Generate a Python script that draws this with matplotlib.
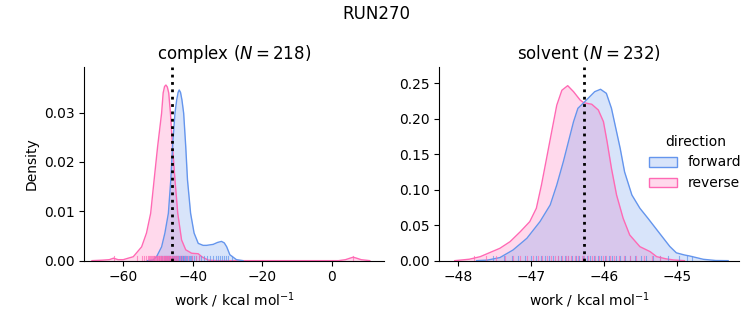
import matplotlib
matplotlib.use("Agg")
import matplotlib.pyplot as plt
from matplotlib.patches import Patch

# ---------------- data ----------------
title = "RUN270"
panels = ["complex", "solvent"]
n_samples = [218, 232]
directions = ["forward", "reverse"]
colors = {"forward": "cornflowerblue", "reverse": "hotpink"}
estimates = [-46.05, -46.28]          # dotted vertical lines

# density curves (work, density)
complex_fwd_x = [-53.0, -51.4, -50.4, -48.95, -48.0, -47.0, -46.3, -45.8, -45.1, -44.6, -44.2, -43.88,
                 -43.5, -43.1, -42.6, -42.0, -41.5, -40.6, -39.6, -38.4, -37.0, -36.0, -34.1, -32.8,
                 -31.7, -30.9, -30.2, -29.3, -27.4, -25.5]
complex_fwd_y = [0.0, 0.00014, 0.0008, 0.0028, 0.0056, 0.0096, 0.0164, 0.0231, 0.0299, 0.0326, 0.0341, 0.0346,
                 0.0341, 0.0326, 0.0299, 0.0231, 0.0164, 0.0096, 0.0056, 0.0035, 0.0031, 0.0031, 0.0033, 0.0037,
                 0.0039, 0.0036, 0.0028, 0.0012, 0.0002, 0.0]
complex_rev_x = [-69.0, -66.0, -64.0, -62.8, -61.5, -60.0, -57.1, -54.7, -53.3, -52.1, -51.1, -50.1, -48.95,
                 -48.5, -48.1, -47.71, -47.3, -46.9, -46.4, -45.8, -45.1, -44.3, -43.2, -42.0, -40.3, -38.4,
                 -37.4, -35.5, -33.0, 2.0, 4.0, 5.3, 6.2, 7.2, 8.5, 11.0]
complex_rev_y = [0.0, 0.0001, 0.0002, 0.0005, 0.0002, 0.0002, 0.0008, 0.0028, 0.0056, 0.0096, 0.0164, 0.0231, 0.0299,
                 0.0340, 0.0353, 0.0356, 0.0352, 0.0340, 0.0299, 0.0231, 0.0164, 0.0096, 0.0042, 0.0022, 0.0015, 0.0014,
                 0.0008, 0.0001, 0.0, 0.0, 0.0002, 0.0005, 0.0007, 0.0005, 0.0002, 0.0]

solvent_fwd_x = [-47.75, -47.6, -47.43, -47.25, -47.06, -46.88, -46.74, -46.65, -46.56, -46.49, -46.42, -46.36,
                 -46.28, -46.22, -46.13, -46.05, -45.97, -45.90, -45.85, -45.78, -45.72, -45.62, -45.51, -45.40,
                 -45.24, -45.10, -45.01, -44.90, -44.83, -44.64, -44.47, -44.30]
solvent_fwd_y = [0.0, 0.0008, 0.0043, 0.015, 0.0315, 0.055, 0.0785, 0.1066, 0.1394, 0.1676, 0.1958, 0.2146,
                 0.2225, 0.2287, 0.238, 0.2414, 0.2357, 0.2146, 0.191, 0.158, 0.125, 0.0925, 0.0738, 0.0597,
                 0.0385, 0.020, 0.0110, 0.0080, 0.0066, 0.0019, 0.0002, 0.0]
solvent_rev_x = [-48.05, -47.85, -47.70, -47.43, -47.29, -47.15, -47.02, -46.93, -46.86, -46.79, -46.72, -46.65,
                 -46.58, -46.50, -46.42, -46.33, -46.28, -46.17, -46.08, -46.01, -45.96, -45.90, -45.83, -45.74,
                 -45.65, -45.51, -45.37, -45.28, -45.15, -45.05, -44.90]
solvent_rev_y = [0.0, 0.002, 0.0056, 0.0174, 0.0268, 0.0408, 0.055, 0.0738, 0.1066, 0.144, 0.1817, 0.219,
                 0.240, 0.2465, 0.238, 0.2263, 0.2225, 0.2203, 0.2122, 0.1958, 0.1676, 0.130, 0.0925, 0.0597,
                 0.0362, 0.0197, 0.0127, 0.0056, 0.0025, 0.001, 0.0]

# individual work values (rug)
complex_fwd_rug = [-50.3, -49.6, -49.1, -48.8, -48.4, -48.0, -47.7, -47.4, -47.1, -46.9, -46.6, -46.4, -46.1,
                   -45.9, -45.7, -45.5, -45.3, -45.1, -44.9, -44.7, -44.5, -44.3, -44.1, -43.9, -43.7, -43.5,
                   -43.3, -43.1, -42.9, -42.7, -42.5, -42.3, -42.1, -41.8, -41.5, -41.2, -40.9, -40.5, -40.1,
                   -39.6, -39.0, -38.3, -37.5, -36.8, -36.0, -35.1, -34.2, -33.4, -32.6, -32.0, -31.5, -31.0,
                   -30.4, -29.7, -28.6]
complex_rev_rug = [-62.7, -56.0, -54.6, -54.0, -53.4, -53.0, -52.6, -52.3, -52.0, -51.7, -51.4, -51.2, -51.0,
                   -50.8, -50.6, -50.4, -50.2, -50.0, -49.8, -49.6, -49.4, -49.2, -49.0, -48.8, -48.6, -48.4,
                   -48.2, -48.0, -47.8, -47.6, -47.4, -47.2, -47.0, -46.8, -46.6, -46.4, -46.2, -46.0, -45.7,
                   -45.4, -45.1, -44.8, -44.5, -44.1, -43.6, -43.0, -42.2, -41.3, -40.2, -39.0, -38.1, 6.3]
solvent_fwd_rug = [-47.52, -47.38, -47.27, -47.18, -47.09, -47.01, -46.94, -46.87, -46.81, -46.75, -46.70, -46.64,
                   -46.59, -46.54, -46.49, -46.44, -46.39, -46.34, -46.29, -46.24, -46.19, -46.14, -46.09, -46.04,
                   -45.99, -45.94, -45.89, -45.84, -45.78, -45.72, -45.65, -45.58, -45.50, -45.42, -45.33, -45.23,
                   -45.12, -44.98, -44.86, -44.79]
solvent_rev_rug = [-47.78, -47.62, -47.48, -47.36, -47.25, -47.15, -47.06, -46.98, -46.91, -46.85, -46.79, -46.73,
                   -46.68, -46.63, -46.58, -46.53, -46.49, -46.45, -46.40, -46.36, -46.31, -46.27, -46.22, -46.17,
                   -46.12, -46.07, -46.02, -45.97, -45.92, -45.86, -45.80, -45.73, -45.65, -45.56, -45.46, -45.35,
                   -45.24]

curves = [
    {"forward": (complex_fwd_x, complex_fwd_y), "reverse": (complex_rev_x, complex_rev_y)},
    {"forward": (solvent_fwd_x, solvent_fwd_y), "reverse": (solvent_rev_x, solvent_rev_y)},
]
rugs = [
    {"forward": complex_fwd_rug, "reverse": complex_rev_rug},
    {"forward": solvent_fwd_rug, "reverse": solvent_rev_rug},
]
xlims = [(-71.2, 15.1), (-48.26, -44.15)]
ylims = [(0, 0.0392), (0, 0.2724)]
yticks = [[0.0, 0.01, 0.02, 0.03], [0.0, 0.05, 0.10, 0.15, 0.20, 0.25]]

# ---------------- figure ----------------
fig = plt.figure(figsize=(7.53, 3.25), dpi=100)
axes = [fig.add_axes([0.112, 0.198, 0.398, 0.595]),
        fig.add_axes([0.5835, 0.198, 0.398, 0.595])]

for i, ax in enumerate(axes):
    for d in ["reverse", "forward"]:
        x, y = curves[i][d]
        c = colors[d]
        ax.fill_between(x, 0, y, color=c, alpha=0.25, linewidth=0)
        ax.plot(x, y, color=c, linewidth=1.0)
    for d in ["forward", "reverse"]:
        tr = ax.get_xaxis_transform()
        for v in rugs[i][d]:
            ax.plot([v, v], [0, 0.025], transform=tr, color=colors[d], lw=0.8, alpha=0.7)
    ax.axvline(estimates[i], color="black", linestyle=":", linewidth=2)
    ax.set_xlim(*xlims[i])
    ax.set_ylim(*ylims[i])
    ax.set_yticks(yticks[i])
    ax.spines["top"].set_visible(False)
    ax.spines["right"].set_visible(False)
    ax.set_xlabel("work / kcal mol$^{-1}$")
    ax.set_title(f"{panels[i]} ($N = {n_samples[i]}$)", fontsize=12)

axes[0].set_xticks([-60, -40, -20, 0])
axes[1].set_xticks([-48, -47, -46, -45])
axes[0].set_ylabel("Density")

handles = [Patch(facecolor=matplotlib.colors.to_rgba(colors[d], 0.25),
                 edgecolor=colors[d], linewidth=1.0) for d in directions]
fig.legend(handles, directions, title="direction", loc="center left",
           bbox_to_anchor=(0.8545, 0.5), frameon=False, borderaxespad=0)

fig.suptitle(title, fontsize=12, y=0.985)
fig.savefig("out.png", dpi=100)
